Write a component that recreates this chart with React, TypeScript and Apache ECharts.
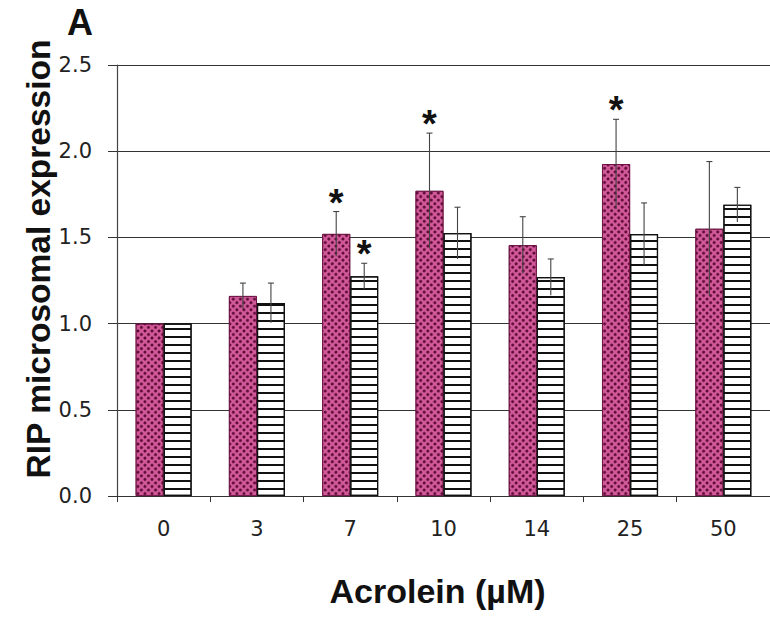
import React, { useEffect, useRef } from "react";
import * as echarts from "echarts";

const categories = ["0", "3", "7", "10", "14", "25", "50"];
const magentaValues = [1.0, 1.16, 1.52, 1.77, 1.455, 1.925, 1.55];
const magentaErrors = [0, 0.075, 0.13, 0.335, 0.165, 0.26, 0.39];
const stripedValues = [1.0, 1.12, 1.275, 1.525, 1.27, 1.52, 1.69];
const stripedErrors = [0, 0.115, 0.075, 0.15, 0.105, 0.18, 0.1];
const magentaStars = [false, false, true, true, false, true, false];
const stripedStars = [false, false, true, false, false, false, false];
const yTicks = [0, 0.5, 1.0, 1.5, 2.0, 2.5];

const BAR_W = 28;
const FONT = "'Liberation Sans', Arial, Helvetica, sans-serif";
const TICK_FONT = "'DejaVu Sans', Verdana, sans-serif";

export default function App() {
  const ref = useRef<HTMLDivElement>(null);
  useEffect(() => {
    if (!ref.current) return;
    const chart = echarts.init(ref.current, undefined, { renderer: "svg" });

    const errData: number[][] = [];
    magentaValues.forEach((v, i) => errData.push([i, v, magentaErrors[i], -BAR_W / 2]));
    stripedValues.forEach((v, i) => errData.push([i, v, stripedErrors[i], BAR_W / 2]));

    const starData: number[][] = [];
    magentaValues.forEach((v, i) => {
      if (magentaStars[i]) starData.push([i, v + magentaErrors[i], -BAR_W / 2]);
    });
    stripedValues.forEach((v, i) => {
      if (stripedStars[i]) starData.push([i, v + stripedErrors[i], BAR_W / 2]);
    });

    chart.setOption({
      animation: false,
      backgroundColor: "#ffffff",
      grid: { left: 117, right: -5, top: 65, bottom: 136, containLabel: false },
      graphic: [
        {
          type: "text",
          left: 67,
          top: 4,
          style: { text: "A", font: `bold 36px ${FONT}`, fill: "#111" },
        },
        {
          type: "text",
          x: 38,
          y: 259,
          rotation: Math.PI / 2,
          style: {
            text: "RIP microsomal expression",
            font: `bold 33.5px ${FONT}`,
            fill: "#111",
            align: "center",
            verticalAlign: "middle",
          },
        },
      ],
      xAxis: {
        type: "category",
        data: categories,
        name: "Acrolein (µM)",
        nameLocation: "middle",
        nameGap: 78,
        nameTextStyle: {
          fontFamily: FONT,
          fontWeight: "bold",
          fontSize: 34,
          color: "#111",
          padding: [0, 12, 0, 0],
        },
        axisLine: { show: true, lineStyle: { color: "#333", width: 1 } },
        axisTick: { show: true, length: 6, inside: false, lineStyle: { color: "#333" } },
        axisLabel: { fontFamily: TICK_FONT, fontSize: 21, color: "#222", margin: 22 },
      },
      yAxis: {
        type: "value",
        min: 0,
        max: 2.5,
        interval: 0.5,
        axisLine: { show: true, lineStyle: { color: "#444", width: 1.2 } },
        axisTick: { show: true, length: 9, lineStyle: { color: "#333" } },
        axisLabel: {
          fontFamily: TICK_FONT,
          fontSize: 21,
          color: "#222",
          margin: 25,
          formatter: (v: number) => (yTicks.indexOf(v) >= 0 ? v.toFixed(1) : ""),
        },
        splitLine: { show: true, lineStyle: { color: "#333", width: 1 } },
      },
      series: [
        {
          type: "bar",
          name: "magenta",
          data: magentaValues,
          barWidth: BAR_W,
          barGap: "0%",
          itemStyle: {
            color: "#d25a9a",
            borderColor: "#6a1040",
            borderWidth: 0.8,
            decal: {
              symbol: "circle",
              symbolSize: 1,
              color: "#5a0832",
              dashArrayX: [3, 2],
              dashArrayY: [3, 2],
              rotation: Math.PI / 4,
            },
          },
          z: 2,
        },
        {
          type: "bar",
          name: "striped",
          data: stripedValues,
          barWidth: BAR_W,
          barGap: "0%",
          itemStyle: {
            color: "#ffffff",
            borderColor: "#111",
            borderWidth: 1.2,
            decal: {
              symbol: "rect",
              symbolSize: 1,
              color: "#111",
              dashArrayX: [8, 0],
              dashArrayY: [2, 6],
              rotation: 0,
            },
          },
          z: 2,
        },
        {
          type: "custom",
          name: "errors",
          data: errData,
          z: 5,
          silent: true,
          renderItem: (params: any, api: any) => {
            const idx = api.value(0);
            const v = api.value(1);
            const e = api.value(2);
            const off = api.value(3);
            if (!e) return { type: "group", children: [] };
            const top = api.coord([idx, v + e]);
            const bot = api.coord([idx, v - e]);
            const x = top[0] + off;
            const style = { stroke: "#444", lineWidth: 1.1 };
            return {
              type: "group",
              children: [
                { type: "line", shape: { x1: x, y1: top[1], x2: x, y2: bot[1] }, style },
                { type: "line", shape: { x1: x - 3, y1: top[1], x2: x + 3, y2: top[1] }, style },
              ],
            };
          },
        },
        {
          type: "custom",
          name: "stars",
          data: starData,
          z: 6,
          silent: true,
          renderItem: (params: any, api: any) => {
            const idx = api.value(0);
            const t = api.value(1);
            const off = api.value(2);
            const p = api.coord([idx, t]);
            return {
              type: "text",
              x: p[0] + off,
              y: p[1] - 9,
              style: {
                text: "*",
                font: `bold 38px ${FONT}`,
                fill: "#111",
                align: "center",
                verticalAlign: "middle",
              },
            };
          },
        },
      ],
    });
    return () => chart.dispose();
  }, []);
  return (
    <div
      ref={ref}
      style={{ position: "fixed", left: 0, top: 0, width: 770, height: 632 }}
    />
  );
}
